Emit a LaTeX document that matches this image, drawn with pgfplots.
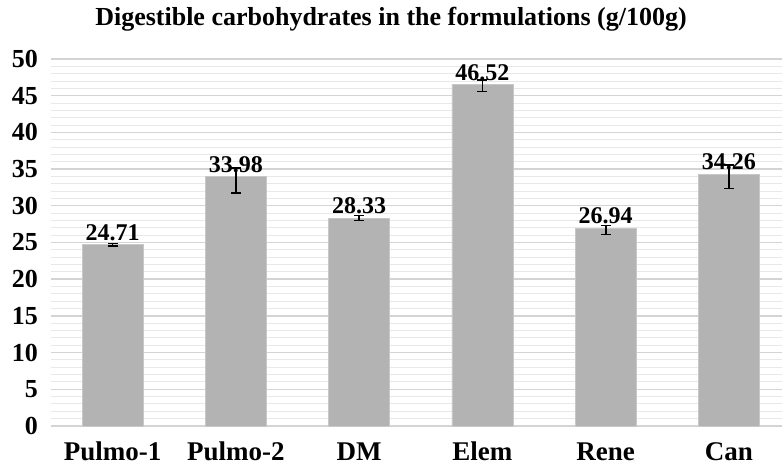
\documentclass[border=0pt]{standalone}
\usepackage{pgfplots}
\pgfplotsset{compat=1.18}
\usepackage{pgfplotstable}
\usepackage{fontspec}
\setmainfont{Liberation Serif}
\definecolor{barfill}{RGB}{179,179,179}
\definecolor{baredge}{RGB}{200,200,200}
\definecolor{majgrid}{RGB}{212,212,212}
\definecolor{mingrid}{RGB}{232,232,232}
\pgfplotstableread{
x y ep em lab
0 24.71 0.15 0.15 24.71
1 33.98 1.15 2.20 33.98
2 28.33 0.35 0.35 28.33
3 46.52 0.60 0.95 46.52
4 26.94 0.35 0.85 26.94
5 34.26 1.30 1.90 34.26
}\datatable
\begin{document}
\begin{tikzpicture}
\begin{axis}[
  at={(0pt,0pt)}, anchor=south west,
  scale only axis,
  width=731pt, height=367pt,
  xmin=-0.5, xmax=5.43,
  ymin=0, ymax=50,
  ytick={0,5,...,50},
  minor y tick num=4,
  xtick={0,1,2,3,4,5},
  xticklabels={Pulmo-1,Pulmo-2,DM,Elem,Rene,Can},
  axis line style={draw=none},
  major tick length=0pt, minor tick length=0pt,
  ymajorgrids, yminorgrids,
  major grid style={draw=majgrid, line width=1.4pt},
  minor grid style={draw=mingrid, line width=1.0pt},
  /pgf/number format/assume math mode=true,
  yticklabel style={font=\bfseries\fontsize{26}{26}\selectfont, anchor=east, inner sep=0pt, xshift=-13pt},
  xticklabel style={font=\bfseries\fontsize{27}{27}\selectfont, anchor=base, inner sep=0pt, yshift=-35pt},
  clip=false,
]
\addplot[ybar, bar width=61pt, fill=barfill, draw=baredge, line width=0.8pt,
  error bars/.cd, y dir=both, y explicit,
  error bar style={line width=1.6pt, black},
  error mark options={rotate=90, mark size=5pt, line width=1.6pt, black},
] table[x=x, y=y, y error plus=ep, y error minus=em] {\datatable};
\addplot[only marks, mark=none,
  nodes near coords, point meta=explicit symbolic,
  nodes near coords style={font=\bfseries\fontsize{24}{24}\selectfont, anchor=south, inner sep=2pt, yshift=2pt, black},
] table[x=x, y=y, meta=lab] {\datatable};
\end{axis}
\node[font=\bfseries\fontsize{26}{26}\selectfont, anchor=base] at (340pt,400pt) {Digestible carbohydrates in the formulations (g/100g)};
\pgfresetboundingbox
\useasboundingbox (-51pt,-42pt) rectangle (731pt,426pt);
\end{tikzpicture}
\end{document}
